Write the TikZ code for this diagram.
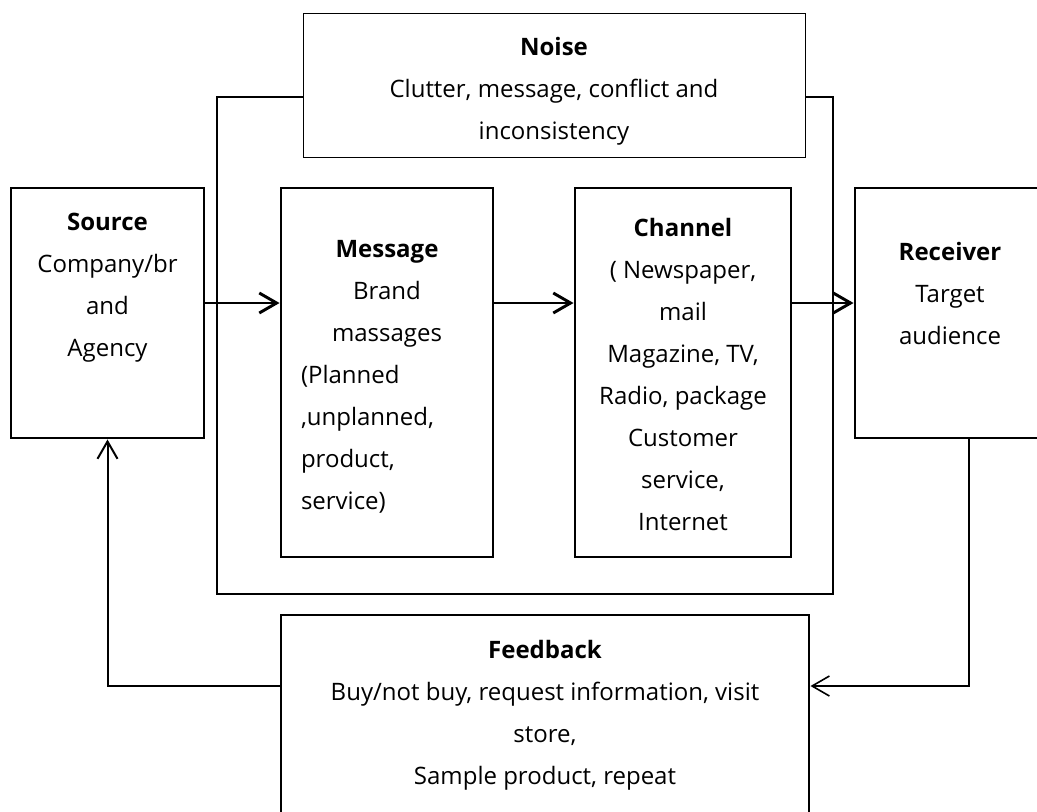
\documentclass[tikz,border=0pt]{standalone}
\usepackage{fontspec}
\setmainfont{Open Sans}
\usetikzlibrary{arrows.meta,positioning}
\newcommand\lft[1]{\makebox[129pt][l]{#1}}

\begin{document}
\begin{tikzpicture}[x=0.75pt, y=-0.75pt,
    box/.style={draw, line width=2.2pt, inner sep=0pt},
    txt/.style={anchor=north, inner sep=0pt, align=center, font=\fontsize{18}{31.5}\selectfont},
    pt/.style={-{Straight Barb[length=13pt,width=15pt]}, line width=2.2pt},
    fine/.style={-{Straight Barb[length=13pt,width=15pt]}, line width=1.2pt}]
  \clip (0,0) rectangle (1037,811);
  \fill[white] (0,0) rectangle (1037,811);

  % boxes
  \node[box, line width=0.75pt, minimum width=376.5pt, minimum height=108pt] (noise) at (554,85) {};
  \node[box, minimum width=144.75pt, minimum height=187.5pt] (src) at (107.5,313) {};
  \node[box, minimum width=159pt, minimum height=276.75pt] (msg) at (387,372.5) {};
  \node[box, minimum width=162pt, minimum height=276.75pt] (chn) at (683,372.5) {};
  \node[box, minimum width=142.5pt, minimum height=187.5pt] (rcv) at (950,313) {};
  \node[box, minimum width=396pt, minimum height=157.5pt] (fb) at (545,720) {};

  % texts
  \node[txt] (noiseT) at (554,37) {\textbf{Noise}\\Clutter, message, conflict and\\inconsistency};
  \node[txt] (srcT) at (107.5,213) {\textbf{Source}\\Company/br\\and\\Agency};
  \node[txt] (msgT) at (387,240) {\textbf{Message}\\Brand\\massages\\\lft{(Planned}\\\lft{,unplanned,}\\\lft{product,}\\\lft{service)}};
  \node[txt] (chnT) at (683,218) {\textbf{Channel}\\( Newspaper,\\mail\\Magazine, TV,\\Radio, package\\Customer\\service,\\Internet};
  \node[txt] (rcvT) at (950,242) {\textbf{Receiver}\\Target\\audience};
  \node[txt] (fbT) at (545,640) {\textbf{Feedback}\\Buy/not buy, request information, visit\\store,\\Sample product, repeat};

  % noise frame
  \draw[line width=2.2pt] (noise.west |- 0,97) -- (217,97) -- (217,594) -- (833,594) -- (833,97) -- (noise.east |- 0,97);

  % flow
  \draw[pt] (src.east |- 0,303) -- (msg.west |- 0,303);
  \draw[pt] (msg.east |- 0,303) -- (chn.west |- 0,303);
  \draw[pt] (chn.east |- 0,303) -- (rcv.west |- 0,303);

  % feedback loop
  \draw[fine] (rcv.south -| 969,0) |- (fb.east |- 0,686);
  \draw[pt, line width=1.5pt] (fb.west |- 0,686) -| (src.south);
\end{tikzpicture}
\end{document}
